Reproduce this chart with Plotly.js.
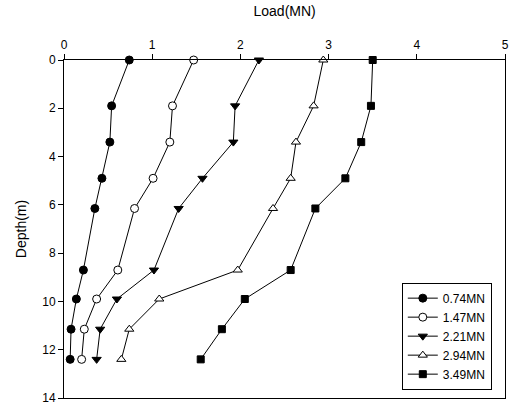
<!DOCTYPE html>
<html>
<head>
<meta charset="utf-8">
<script src="https://cdn.plot.ly/plotly-3.0.1.min.js"></script>
<style>html,body{margin:0;padding:0;background:#fff;}#chart{width:511px;height:412px;}</style>
</head>
<body>
<div id="chart"></div>
<script>
const depths = [0, 1.9, 3.4, 4.9, 6.15, 8.7, 9.9, 11.15, 12.4];
const seriesNames = ["0.74MN", "1.47MN", "2.21MN", "2.94MN", "3.49MN"];
const load074 = [0.74, 0.54, 0.52, 0.43, 0.35, 0.22, 0.14, 0.08, 0.07];
const load147 = [1.47, 1.23, 1.20, 1.01, 0.80, 0.61, 0.37, 0.23, 0.20];
const load221 = [2.21, 1.94, 1.92, 1.57, 1.30, 1.02, 0.60, 0.41, 0.37];
const load294 = [2.94, 2.83, 2.63, 2.57, 2.37, 1.97, 1.08, 0.74, 0.65];
const load349 = [3.50, 3.48, 3.37, 3.19, 2.85, 2.57, 2.05, 1.79, 1.55];
const xTicks = [0, 1, 2, 3, 4, 5];
const yTicks = [0, 2, 4, 6, 8, 10, 12, 14];

const loads = [load074, load147, load221, load294, load349];
const symbols = ["circle", "circle", "triangle-down", "triangle-up", "square"];
const fills = ["#000", "#fff", "#000", "#fff", "#000"];
const sizes = [8, 8, 8, 8, 7];

const traces = loads.map((xs, i) => ({
  x: xs, y: depths, name: seriesNames[i], type: "scatter", mode: "lines+markers",
  line: {color: "#000", width: 1},
  marker: {symbol: symbols[i], size: sizes[i], color: fills[i], line: {color: "#000", width: 1}},
  cliponaxis: false
}));

const layout = {
  width: 511, height: 412,
  margin: {l: 64, r: 6, t: 60, b: 14},
  paper_bgcolor: "#fff", plot_bgcolor: "#fff",
  font: {family: "Arial, 'Liberation Sans', sans-serif", size: 12, color: "#000"},
  title: {text: "Load(MN)", x: 0.557, xanchor: "center", y: 0.985, yanchor: "top", font: {size: 14}},
  xaxis: {
    side: "top", range: [0, 5], tickvals: xTicks, ticktext: xTicks.map(String),
    ticks: "outside", ticklen: 5, tickwidth: 1, tickcolor: "#000",
    showline: true, linecolor: "#000", linewidth: 1, mirror: true,
    showgrid: false, zeroline: false, tickfont: {size: 12}
  },
  yaxis: {
    range: [14, 0], tickvals: yTicks, ticktext: yTicks.map(String),
    ticks: "outside", ticklen: 5, tickwidth: 1, tickcolor: "#000",
    showline: true, linecolor: "#000", linewidth: 1, mirror: true,
    showgrid: false, zeroline: false, tickfont: {size: 12},
    title: {text: "Depth(m)", font: {size: 14}, standoff: 12}
  },
  showlegend: true,
  legend: {
    x: 0.766, y: 0.183, xanchor: "left", yanchor: "middle",
    bordercolor: "#000", borderwidth: 1, bgcolor: "#fff",
    font: {size: 12}, itemwidth: 30, tracegroupgap: 0
  }
};

Plotly.newPlot("chart", traces, layout, {displayModeBar: false, staticPlot: true});
</script>
</body>
</html>
